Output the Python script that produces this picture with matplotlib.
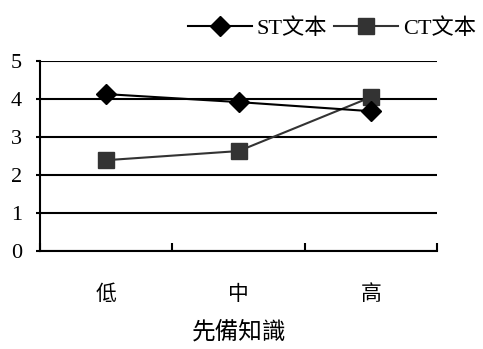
import matplotlib
matplotlib.use('Agg')
import matplotlib.pyplot as plt
import numpy as np

categories = ['低', '中', '高']
st_values = [4.13, 3.92, 3.68]
ct_values = [2.39, 2.63, 4.05]
yticks = [0, 1, 2, 3, 4, 5]

fonts = ['Liberation Serif', 'Noto Sans CJK TC']
plt.rcParams['font.family'] = fonts

fig = plt.figure(figsize=(4.83, 3.49), dpi=100)
ax = fig.add_axes([0.083, 0.281, 0.822, 0.544])

x = np.arange(len(categories))
ax.plot(x, st_values, color='black', lw=1.5, marker='D', markersize=10,
        label='ST文本', zorder=4)
ax.plot(x, ct_values, color='#333333', lw=1.5, marker='s', markersize=12,
        label='CT文本', zorder=3)

ax.set_xlim(-0.5, 2.5)
ax.set_ylim(0, 5)
ax.set_yticks(yticks)
ax.yaxis.grid(True, color='black', lw=1.5)
ax.set_axisbelow(True)

# category boundaries as ticks, labels centred
ax.set_xticks([-0.5, 0.5, 1.5, 2.5])
ax.set_xticklabels([])
ax.set_xticks(x, minor=True)
ax.set_xticklabels(categories, minor=True, fontsize=15)
ax.tick_params(axis='x', which='major', direction='in', length=6, width=1.5)
ax.tick_params(axis='x', which='minor', length=0, pad=25)
ax.tick_params(axis='y', direction='out', length=3, width=1.5, labelsize=16, pad=10)

for side in ['top', 'right']:
    ax.spines[side].set_visible(False)
for side in ['left', 'bottom']:
    ax.spines[side].set_linewidth(1.5)

ax.set_xlabel('先備知識', fontsize=17)
ax.xaxis.set_label_coords(0.5, -0.37)

ax.legend(loc='lower right', bbox_to_anchor=(1.12, 1.07), ncol=2, frameon=False,
          fontsize=16, handlelength=2.9, handletextpad=0.2, columnspacing=0.3,
          borderaxespad=0)

fig.savefig('out.png', dpi=100)
